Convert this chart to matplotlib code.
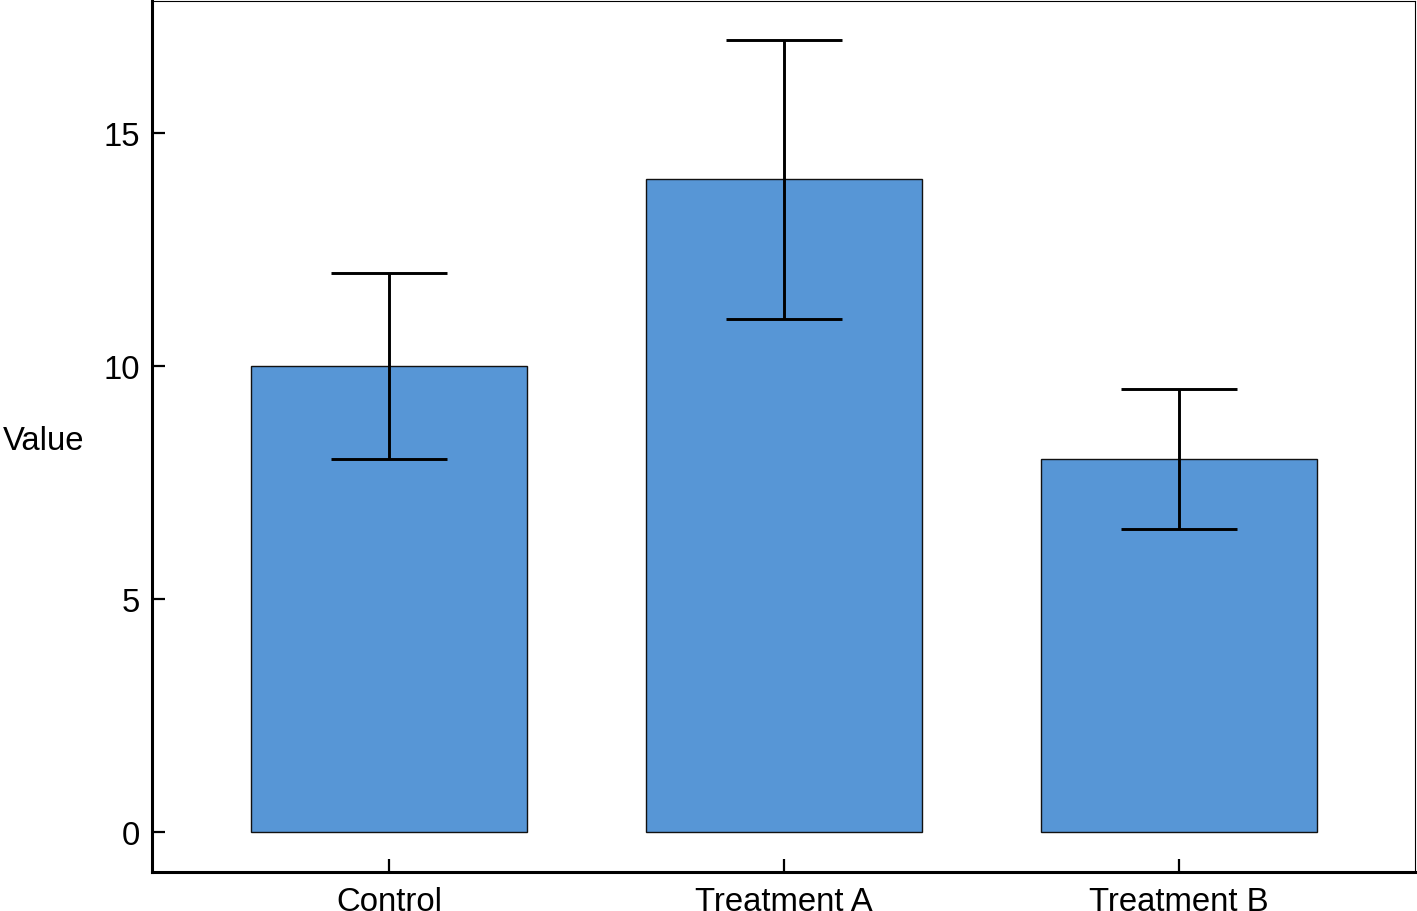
import matplotlib
matplotlib.use('Agg')
import matplotlib.pyplot as plt
import numpy as np

plt.rcParams['font.family'] = ['Liberation Sans', 'DejaVu Sans']

# data
groups = ['Control', 'Treatment A', 'Treatment B']
means = [10, 14, 8]
err_low = [8, 11, 6.5]
err_high = [12, 17, 9.5]
yticks = [0, 5, 10, 15]

fig = plt.figure(figsize=(14.17, 9.12), dpi=100)
ax = fig.add_axes([0.1073, 0.0428, 0.8913, 0.955])

x = np.arange(len(groups))
lower = np.array(means) - np.array(err_low)
upper = np.array(err_high) - np.array(means)

ax.bar(x, means, width=0.7, color='#5796d6', edgecolor='#111111', linewidth=1.0)
ax.errorbar(x, means, yerr=[lower, upper], fmt='none', ecolor='black',
            elinewidth=2.1, capsize=42, capthick=2.1)

ax.set_xlim(-0.6, 2.597)
ax.set_ylim(-0.86, 17.83)
ax.set_xticks(x)
ax.set_xticklabels(groups)
ax.set_yticks(yticks)

ax.tick_params(direction='in', length=9.5, width=1.6, labelsize=23.7)
ax.tick_params(axis='x', pad=10)
ax.tick_params(axis='y', pad=9)

for side in ['left', 'bottom']:
    ax.spines[side].set_linewidth(2.2)
for side in ['top', 'right']:
    ax.spines[side].set_linewidth(0.8)

ax.set_ylabel('Value', rotation=0, fontsize=23.7, ha='left', va='center')
ax.yaxis.set_label_coords(-0.118, 0.495)

fig.savefig('out.png', dpi=100)
plt.close()
